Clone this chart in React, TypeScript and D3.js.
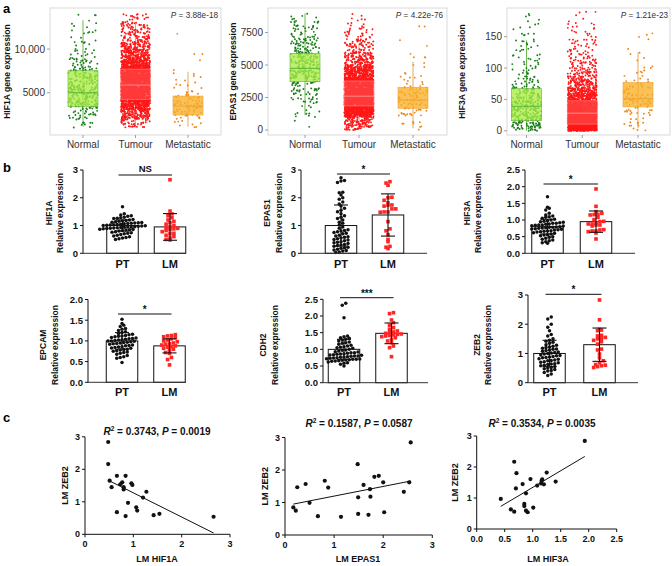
import React from "react";
import * as d3 from "d3";

const FONT = "'Liberation Sans', Arial, Helvetica, sans-serif";

// ================= Panel a data =================
const groupsA = ["Normal", "Tumour", "Metastatic"];
const genesA = ["HIF1A", "EPAS1", "HIF3A"];
const pValuesA = ["3.88e-18", "4.22e-76", "1.21e-23"];
const binWidthsA = [1000, 1000, 10];
const yTicksA = [[5000, 10000], [0, 2500, 5000, 7500], [0, 50, 100, 150]];

// point counts per bin (bins start at 0), read from point density
const hif1aNormalCounts = [0, 10, 25, 45, 50, 50, 45, 35, 22, 12, 8, 6, 6, 4];
const hif1aTumourCounts = [0, 40, 120, 250, 380, 420, 400, 330, 220, 140, 90, 60, 45, 25];
const hif1aMetCounts = [0, 8, 22, 28, 20, 8, 5, 3, 1, 2, 0, 1];
const epas1NormalCounts = [2, 12, 25, 40, 70, 70, 50, 30, 18];
const epas1TumourCounts = [120, 550, 750, 550, 300, 140, 60, 25, 10];
const epas1MetCounts = [8, 30, 30, 16, 8, 5, 2, 2];
const hif3aNormalCounts = [35, 40, 40, 40, 35, 30, 25, 15, 12, 10, 8, 7, 7, 6, 5, 5, 4, 3, 3];
const hif3aTumourCounts = [500, 520, 420, 320, 230, 150, 100, 70, 50, 35, 25, 20, 15, 12, 10, 8, 6, 5, 4];
const hif3aMetCounts = [6, 8, 6, 10, 18, 16, 10, 8, 5, 5, 2, 2, 2, 1, 2, 2];

// box stats: [whisker low, Q1, median, Q3, whisker high]
const hif1aBoxes = [[1100, 3400, 5000, 7520, 13300], [1000, 4240, 5880, 7700, 12900], [1100, 2450, 3480, 4620, 7400]];
const epas1Boxes = [[1150, 3715, 4745, 5900, 8970], [150, 1850, 2600, 3770, 6650], [130, 1670, 2300, 3280, 5250]];
const hif3aBoxes = [[0, 16, 39, 67, 144], [0, 10.6, 28, 47.6, 96], [4, 38, 51, 77, 125]];

// ================= Panel b data =================
const genesB = ["HIF1A", "EPAS1", "HIF3A", "EPCAM", "CDH2", "ZEB2"];
const groupsB = ["PT", "LM"];
const hif1aPT = [1.68, 1.42, 1.38, 1.35, 1.33, 1.3, 1.28, 1.26, 1.25, 1.22, 1.2, 1.18, 1.17, 1.15, 1.14, 1.12, 1.1, 1.09, 1.08, 1.07, 1.05, 1.04, 1.03, 1.02, 1.01, 1.0, 0.99, 0.98, 0.97, 0.96, 0.95, 0.94, 0.93, 0.92, 0.91, 0.9, 0.89, 0.88, 0.87, 0.86, 0.85, 0.84, 0.82, 0.8, 0.78, 0.76, 0.74, 0.72, 0.7, 0.68, 0.65, 0.62, 0.6, 0.57, 0.55, 0.52, 0.5, 1.11, 1.06, 0.95];
const hif1aLM = [2.65, 1.52, 1.42, 1.35, 1.28, 1.2, 1.15, 1.1, 1.05, 1.0, 0.95, 0.92, 0.9, 0.88, 0.85, 0.82, 0.78, 0.72, 0.7, 0.65, 0.6, 0.55, 0.5, 0.48];
const epas1PT = [2.72, 2.62, 2.6, 2.55, 2.2, 2.18, 2.1, 2.0, 1.95, 1.85, 1.78, 1.7, 1.62, 1.55, 1.5, 1.42, 1.35, 1.3, 1.25, 1.2, 1.12, 1.08, 1.02, 0.95, 0.9, 0.85, 0.82, 0.8, 0.78, 0.75, 0.72, 0.7, 0.65, 0.62, 0.6, 0.58, 0.55, 0.52, 0.5, 0.48, 0.45, 0.42, 0.4, 0.38, 0.35, 0.32, 0.3, 0.28, 0.25, 0.22, 0.2, 0.18, 0.15, 0.12, 0.1, 0.08, 0.05, 0.03];
const epas1LM = [2.58, 2.53, 2.45, 2.02, 2.0, 1.91, 1.82, 1.74, 1.73, 1.7, 1.6, 1.49, 1.49, 1.48, 1.14, 0.88, 0.81, 0.67, 0.5, 0.42, 0.25, 0.22, 0.17, 1.6];
const hif3aPT = [1.7, 1.38, 1.35, 1.3, 1.2, 1.15, 1.12, 1.1, 1.08, 1.05, 1.02, 1.0, 0.98, 0.96, 0.95, 0.93, 0.92, 0.9, 0.88, 0.87, 0.85, 0.84, 0.83, 0.82, 0.8, 0.79, 0.78, 0.77, 0.76, 0.75, 0.74, 0.72, 0.71, 0.7, 0.68, 0.67, 0.65, 0.64, 0.62, 0.6, 0.58, 0.56, 0.55, 0.53, 0.5, 0.48, 0.45, 0.42, 0.4, 0.38, 0.35, 0.32, 0.3, 0.9, 0.85, 0.78, 0.73, 0.66];
const hif3aLM = [1.93, 1.41, 1.25, 1.2, 1.17, 1.16, 1.15, 1.08, 1.01, 0.96, 0.91, 0.88, 0.88, 0.85, 0.85, 0.82, 0.71, 0.7, 0.67, 0.67, 0.61, 0.43, 0.95, 0.65];
const epcamPT = [1.52, 1.42, 1.38, 1.35, 1.3, 1.28, 1.25, 1.22, 1.2, 1.18, 1.15, 1.13, 1.12, 1.1, 1.08, 1.07, 1.05, 1.04, 1.03, 1.02, 1.01, 1.0, 0.99, 0.98, 0.97, 0.96, 0.95, 0.94, 0.92, 0.9, 0.89, 0.88, 0.86, 0.85, 0.84, 0.82, 0.8, 0.79, 0.78, 0.76, 0.75, 0.73, 0.72, 0.7, 0.68, 0.65, 0.62, 0.6, 0.58, 0.48, 1.06, 1.0, 0.93, 1.16, 0.83, 1.11];
const epcamLM = [1.15, 1.13, 1.12, 1.1, 1.08, 1.05, 1.02, 1.0, 0.98, 0.95, 0.93, 0.92, 0.9, 0.88, 0.86, 0.85, 0.82, 0.8, 0.78, 0.72, 0.7, 0.6, 0.55, 0.42];
const cdh2PT = [2.38, 2.32, 1.95, 1.4, 1.38, 1.35, 1.33, 1.3, 1.28, 1.25, 1.22, 1.2, 1.18, 1.15, 1.12, 1.1, 1.08, 1.05, 1.03, 1.0, 0.98, 0.97, 0.95, 0.93, 0.92, 0.9, 0.88, 0.87, 0.85, 0.84, 0.83, 0.82, 0.8, 0.79, 0.78, 0.77, 0.76, 0.75, 0.74, 0.73, 0.72, 0.71, 0.7, 0.69, 0.68, 0.67, 0.66, 0.65, 0.64, 0.62, 0.6, 0.58, 0.55, 0.5, 0.9, 0.8, 0.7, 1.06, 0.86];
const cdh2LM = [2.1, 2.07, 1.88, 1.8, 1.72, 1.65, 1.6, 1.55, 1.52, 1.5, 1.48, 1.46, 1.45, 1.43, 1.42, 1.4, 1.38, 1.35, 1.3, 1.25, 1.2, 1.1, 1.05, 0.78];
const zeb2PT = [2.25, 2.18, 2.0, 1.9, 1.78, 1.65, 1.6, 1.5, 1.45, 1.42, 1.38, 1.35, 1.3, 1.25, 1.22, 1.2, 1.18, 1.15, 1.12, 1.1, 1.08, 1.05, 1.02, 1.0, 0.98, 0.95, 0.92, 0.9, 0.88, 0.85, 0.82, 0.8, 0.78, 0.75, 0.72, 0.7, 0.68, 0.65, 0.62, 0.6, 0.58, 0.55, 0.52, 0.5, 0.48, 0.45, 0.42, 0.4, 0.35, 0.3, 0.25, 1.28, 0.93, 0.86, 1.03, 0.76, 1.14, 0.64];
const zeb2LM = [2.83, 2.15, 1.82, 1.8, 1.78, 1.62, 1.6, 1.55, 1.52, 1.5, 1.45, 1.4, 1.32, 1.15, 1.12, 0.98, 0.85, 0.75, 0.68, 0.62, 0.6, 0.58, 0.55, 0.52];

const barMeans = [[1.0, 0.95], [1.0, 1.38], [0.8, 0.95], [1.0, 0.88], [1.0, 1.48], [1.0, 1.3]];
const barSDs = [[0.2, 0.48], [0.74, 0.76], [0.22, 0.32], [0.2, 0.17], [0.3, 0.31], [0.45, 0.57]];
const sigLabels = ["NS", "*", "*", "*", "***", "*"];
const yMaxB = [3, 3, 2.5, 2.0, 2.5, 3];
const yTicksB = [[0, 1, 2, 3], [0, 1, 2, 3], [0, 0.5, 1, 1.5, 2, 2.5], [0, 0.5, 1, 1.5, 2], [0, 0.5, 1, 1.5, 2, 2.5], [0, 1, 2, 3]];

// ================= Panel c data =================
const lmHIF1A_c = [0.48, 0.48, 0.51, 0.55, 0.66, 0.73, 0.77, 0.8, 0.8, 0.84, 0.96, 0.98, 0.66, 0.84, 0.89, 1.06, 1.08, 1.2, 1.27, 1.42, 1.54, 2.66];
const lmZEB2_c1 = [2.84, 2.16, 1.65, 1.45, 1.8, 1.54, 1.6, 1.45, 1.38, 1.8, 1.57, 1.52, 0.68, 0.56, 0.97, 0.83, 0.73, 1.13, 1.31, 0.59, 0.63, 0.54];
const lmEPAS1_c = [0.17, 0.22, 0.25, 0.42, 0.5, 0.67, 0.81, 0.88, 1.14, 1.48, 1.49, 1.49, 1.6, 1.7, 1.73, 1.74, 1.82, 1.91, 2.0, 2.02, 2.42, 2.53, 2.56];
const lmZEB2_c2 = [0.85, 0.75, 1.47, 1.57, 0.99, 0.58, 1.67, 1.46, 0.56, 2.18, 1.16, 0.65, 1.54, 0.62, 1.41, 1.18, 1.79, 1.82, 1.62, 0.7, 1.33, 1.62, 2.85];
const lmHIF3A_c = [0.43, 0.61, 0.67, 0.67, 0.7, 0.71, 0.82, 0.85, 0.85, 0.88, 0.88, 0.91, 0.96, 1.01, 1.08, 1.15, 1.16, 1.17, 1.2, 1.25, 1.41, 1.93];
const lmZEB2_c3 = [0.97, 0.63, 0.56, 2.17, 1.31, 1.8, 1.45, 0.81, 0.74, 1.15, 0.59, 0.54, 1.61, 0.69, 1.4, 1.47, 1.56, 1.6, 1.44, 1.82, 1.53, 2.84];
const xLabelsC = ["LM HIF1A", "LM EPAS1", "LM HIF3A"];
const r2C = ["0.3743", "0.1587", "0.3534"];
const pC = ["0.0019", "0.0587", "0.0035"];
// fitted lines: [intercept, slope]
const fitsC = [[2.02, -0.744], [0.9, 0.297], [0.269, 1.073]];
const xTicksC = [[0, 1, 2, 3], [0, 1, 2, 3], [0, 0.5, 1, 1.5, 2, 2.5]];
const yTicksC = [0, 1, 2, 3];

// ================= Layout =================
const layoutA = [
  { left: 50, right: 221, centers: [83, 135.5, 188], domain: [160, 14700], titleX: 7, pX: 218 },
  { left: 268, right: 447, centers: [305, 359, 413], domain: [-385, 9385], titleX: 233, pX: 443 },
  { left: 507, right: 670, centers: [526.5, 582.5, 638], domain: [-6.8, 195.7], titleX: 462, pX: 668 },
];
const fillA = ["#a9ec45", "#ff5c5c", "#f8b126"];
const fillOpA = [0.78, 0.5, 0.78];
const dotA = ["#1b7d1b", "#ff1717", "#ec861c"];
const lineA = ["#5cb338", "#ff8a8a", "#eea03c"];

const layoutB = [
  { axisX: 83, xEnd: 186, centers: [122.5, 170], y0: 253.3, yTop: 170, sigY: 175, titleX: [49, 60], titleY: 213, labY: 268 },
  { axisX: 301, xEnd: 427, centers: [341, 388], y0: 253.3, yTop: 170, sigY: 174, titleX: [267, 279], titleY: 213, labY: 268 },
  { axisX: 525, xEnd: 635, centers: [547.5, 596], y0: 253.3, yTop: 170, sigY: 184, titleX: [467, 478], titleY: 213, labY: 268 },
  { axisX: 88, xEnd: 186, centers: [122, 169.5], y0: 382.3, yTop: 299.5, sigY: 314, titleX: [43, 55], titleY: 345, labY: 396 },
  { axisX: 323, xEnd: 428, centers: [344, 391.5], y0: 382.7, yTop: 299.3, sigY: 297.7, titleX: [263, 275], titleY: 345, labY: 396 },
  { axisX: 528, xEnd: 638, centers: [549.5, 599.5], y0: 382.7, yTop: 295, sigY: 294.3, titleX: [477, 488], titleY: 345, labY: 396 },
];

const layoutC = [
  { x0: 85, x1: 230, y0: 534.3, y1: 436.8, titleX: 157, titleY: 435, xTitleX: 157, yTitleX: 65 },
  { x0: 285, x1: 432.3, y0: 535, y1: 437.5, titleX: 359, titleY: 427, xTitleX: 358, yTitleX: 265 },
  { x0: 476.7, x1: 616.7, y0: 529, y1: 436, titleX: 542, titleY: 427, xTitleX: 548, yTitleX: 455 },
];

// ================= Helpers =================
// deterministic hash used only to spread points horizontally/within a bin (layout, not data)
function hash(n: number, k: number) {
  const s = Math.sin(n * 12.9898 + k * 78.233) * 43758.5453;
  return s - Math.floor(s);
}

function jitterPoints(counts: number[], bw: number, cx: number, width: number, y: any, seed: number) {
  const out: { x: number; y: number }[] = [];
  let g = 0;
  counts.forEach((n, k) => {
    for (let i = 0; i < n; i++) {
      const fx = hash(g + seed * 1000, 1);
      const fy = hash(g + seed * 1000, 2);
      const v = k * bw + fy * bw;
      out.push({ x: cx + (fx - 0.5) * width, y: y(v) });
      g++;
    }
  });
  return out;
}

function swarm(values: number[], y: any, cx: number, step: number) {
  const pts = values.map((v) => ({ v, py: y(v) }));
  const rows = d3.group(pts, (p) => Math.round(p.py / step));
  const out: { x: number; y: number }[] = [];
  rows.forEach((arr) => {
    arr.sort((a, b) => a.v - b.v);
    const n = arr.length;
    arr.forEach((p, i) => out.push({ x: cx + (i - (n - 1) / 2) * step, y: p.py }));
  });
  return out;
}

function fmtA(v: number) {
  return v >= 10000 ? d3.format(",")(v) : String(v);
}

// ================= Panels =================
function PanelA({ idx }: { idx: number }) {
  const L = layoutA[idx];
  const top = 8, bottom = 135;
  const y = d3.scaleLinear().domain(L.domain).range([bottom, top]);
  const x = d3.scalePoint<string>().domain(groupsA).range([L.centers[0], L.centers[2]]);
  const countsAll = [
    [hif1aNormalCounts, hif1aTumourCounts, hif1aMetCounts],
    [epas1NormalCounts, epas1TumourCounts, epas1MetCounts],
    [hif3aNormalCounts, hif3aTumourCounts, hif3aMetCounts],
  ][idx];
  const boxes = [hif1aBoxes, epas1Boxes, hif3aBoxes][idx];
  const bw = 30;
  return (
    <g>
      <rect x={L.left} y={top} width={L.right - L.left} height={bottom - top} fill="white" stroke="#cfcfcf" strokeWidth={0.8} />
      {groupsA.map((g, gi) => {
        const b = boxes[gi];
        const cx = x(g)!;
        return <line key={"w" + g} x1={cx} x2={cx} y1={y(b[0])} y2={y(b[4])} stroke={lineA[gi]} strokeWidth={1} opacity={0.9} />;
      })}
      {groupsA.map((g, gi) => {
        const pts = jitterPoints(countsAll[gi], binWidthsA[idx], x(g)!, 29, y, idx * 3 + gi);
        return (
          <g key={g}>
            {pts.map((p, i) => (
              <circle key={i} cx={p.x} cy={p.y} r={0.95} fill={dotA[gi]} />
            ))}
          </g>
        );
      })}
      {groupsA.map((g, gi) => {
        const b = boxes[gi];
        const cx = x(g)!;
        return (
          <g key={g}>
            <rect x={cx - bw / 2} y={y(b[3])} width={bw} height={y(b[1]) - y(b[3])} fill={fillA[gi]} fillOpacity={fillOpA[gi]} stroke={lineA[gi]} strokeWidth={0.6} />
            <line x1={cx - bw / 2} x2={cx + bw / 2} y1={y(b[2])} y2={y(b[2])} stroke={lineA[gi]} strokeWidth={1} />
          </g>
        );
      })}
      {yTicksA[idx].map((t) => (
        <g key={t}>
          <line x1={L.left - 3} x2={L.left} y1={y(t)} y2={y(t)} stroke="#888" strokeWidth={0.8} />
          <text x={L.left - 5} y={y(t)} dy="0.35em" textAnchor="end" fontSize={10} fill="#333">
            {fmtA(t)}
          </text>
        </g>
      ))}
      {groupsA.map((g) => (
        <g key={g}>
          <line x1={x(g)!} x2={x(g)!} y1={bottom} y2={bottom + 3} stroke="#888" strokeWidth={0.8} />
          <text x={x(g)!} y={148} textAnchor="middle" fontSize={10} fill="#333">
            {g}
          </text>
        </g>
      ))}
      <text transform={`translate(${L.titleX},${(top + bottom) / 2}) rotate(-90)`} textAnchor="middle" dominantBaseline="central" fontSize={8.6} fontWeight="bold" fill="#111">
        {genesA[idx]} gene expression
      </text>
      <text x={L.pX} y={18} textAnchor="end" fontSize={8.2} fill="#333">
        <tspan fontStyle="italic">P</tspan> = {pValuesA[idx]}
      </text>
    </g>
  );
}

function PanelB({ idx }: { idx: number }) {
  const L = layoutB[idx];
  const y = d3.scaleLinear().domain([0, yMaxB[idx]]).range([L.y0, L.yTop]);
  const x = d3.scalePoint<string>().domain(groupsB).range([L.centers[0], L.centers[1]]);
  const data = [
    [hif1aPT, hif1aLM], [epas1PT, epas1LM], [hif3aPT, hif3aLM],
    [epcamPT, epcamLM], [cdh2PT, cdh2LM], [zeb2PT, zeb2LM],
  ][idx];
  const barW = 31.5;
  const fmt = yTicksB[idx].some((t) => t % 1 !== 0) ? d3.format(".1f") : d3.format("d");
  const capW = 14;
  return (
    <g fontFamily={FONT}>
      {groupsB.map((g, gi) => {
        const cx = x(g)!;
        const m = barMeans[idx][gi];
        return <rect key={g} x={cx - barW / 2} y={y(m)} width={barW} height={L.y0 - y(m)} fill="white" stroke="#111" strokeWidth={1} />;
      })}
      {swarm(data[0], y, x("PT")!, 3.5).map((p, i) => (
        <circle key={"p" + i} cx={p.x} cy={p.y} r={1.75} fill="#111" />
      ))}
      {swarm(data[1], y, x("LM")!, 3.9).map((p, i) => (
        <rect key={"l" + i} x={p.x - 1.8} y={p.y - 1.8} width={3.6} height={3.6} fill="#ff2626" />
      ))}
      {groupsB.map((g, gi) => {
        const cx = x(g)!;
        const m = barMeans[idx][gi];
        const s = barSDs[idx][gi];
        return (
          <g key={g} stroke="#111" strokeWidth={1.1}>
            <line x1={cx} x2={cx} y1={y(m - s)} y2={y(m + s)} />
            <line x1={cx - capW / 2} x2={cx + capW / 2} y1={y(m + s)} y2={y(m + s)} />
            <line x1={cx - capW / 2} x2={cx + capW / 2} y1={y(m - s)} y2={y(m - s)} />
          </g>
        );
      })}
      <line x1={L.axisX} x2={L.axisX} y1={L.y0} y2={L.yTop} stroke="#111" strokeWidth={1} />
      <line x1={L.axisX} x2={L.xEnd} y1={L.y0} y2={L.y0} stroke="#333" strokeWidth={1} />
      {yTicksB[idx].map((t) => (
        <g key={t}>
          <line x1={L.axisX - 3} x2={L.axisX} y1={y(t)} y2={y(t)} stroke="#111" strokeWidth={1} />
          <text x={L.axisX - 5} y={y(t)} dy="0.35em" textAnchor="end" fontSize={9.5} fontWeight="bold" fill="#111">
            {fmt(t)}
          </text>
        </g>
      ))}
      {groupsB.map((g) => (
        <text key={g} x={x(g)!} y={L.labY} textAnchor="middle" fontSize={11} fontWeight="bold" fill="#111">
          {g}
        </text>
      ))}
      <line x1={x("PT")! - 4} x2={x("LM")! + 2} y1={L.sigY} y2={L.sigY} stroke="#111" strokeWidth={1} />
      <text x={(x("PT")! + x("LM")!) / 2 - 1} y={L.sigY - (sigLabels[idx] === "NS" ? 3 : 1)} textAnchor="middle" fontSize={sigLabels[idx] === "NS" ? 9.5 : 10} fontWeight="bold" fill="#111">
        {sigLabels[idx]}
      </text>
      <text transform={`translate(${L.titleX[0]},${L.titleY}) rotate(-90)`} textAnchor="middle" dominantBaseline="central" fontSize={8.5} fontWeight="bold" fill="#111">
        {genesB[idx]}
      </text>
      <text transform={`translate(${L.titleX[1]},${L.titleY}) rotate(-90)`} textAnchor="middle" dominantBaseline="central" fontSize={8.5} fontWeight="bold" fill="#111">
        Relative expression
      </text>
    </g>
  );
}

function PanelC({ idx }: { idx: number }) {
  const L = layoutC[idx];
  const xs = [lmHIF1A_c, lmEPAS1_c, lmHIF3A_c][idx];
  const ys = [lmZEB2_c1, lmZEB2_c2, lmZEB2_c3][idx];
  const xt = xTicksC[idx];
  const x = d3.scaleLinear().domain([xt[0], xt[xt.length - 1]]).range([L.x0, L.x1]);
  const y = d3.scaleLinear().domain([0, 3]).range([L.y0, L.y1]);
  const [b0, b1] = fitsC[idx];
  const [xmin, xmax] = d3.extent(xs) as [number, number];
  const fitLine = d3.line<number>().x((v) => x(v)).y((v) => y(b0 + b1 * v));
  const fmt = xt.some((t) => t % 1 !== 0) ? d3.format(".1f") : d3.format("d");
  return (
    <g fontFamily={FONT}>
      <line x1={L.x0} x2={L.x0} y1={L.y0} y2={L.y1} stroke="#111" strokeWidth={1} />
      <line x1={L.x0} x2={L.x1} y1={L.y0} y2={L.y0} stroke="#111" strokeWidth={1} />
      {yTicksC.map((t) => (
        <g key={t}>
          <line x1={L.x0 - 3} x2={L.x0} y1={y(t)} y2={y(t)} stroke="#111" />
          <text x={L.x0 - 5} y={y(t)} dy="0.35em" textAnchor="end" fontSize={9} fontWeight="bold" fill="#111">
            {t}
          </text>
        </g>
      ))}
      {xt.map((t) => (
        <g key={t}>
          <line x1={x(t)} x2={x(t)} y1={L.y0} y2={L.y0 + 3} stroke="#111" />
          <text x={x(t)} y={L.y0 + 13} textAnchor="middle" fontSize={9} fontWeight="bold" fill="#111">
            {fmt(t)}
          </text>
        </g>
      ))}
      <path d={fitLine([idx === 0 ? 0.5 : xmin, xmax]) || ""} stroke="#111" strokeWidth={1} fill="none" />
      {xs.map((v, i) => (
        <circle key={i} cx={x(v)} cy={y(ys[i])} r={2.1} fill="#111" />
      ))}
      <text x={L.xTitleX} y={561.5} textAnchor="middle" fontSize={9} fontWeight="bold" fill="#111">
        {xLabelsC[idx]}
      </text>
      <text transform={`translate(${L.yTitleX},${(L.y0 + L.y1) / 2}) rotate(-90)`} textAnchor="middle" dominantBaseline="central" fontSize={9} fontWeight="bold" fill="#111">
        LM ZEB2
      </text>
      <text x={L.titleX} y={L.titleY} textAnchor="middle" fontSize={10} fontWeight="bold" fill="#111">
        <tspan fontStyle="italic">R</tspan>
        <tspan dy={-4} fontSize={6.5}>2</tspan>
        <tspan dy={4}> = {r2C[idx]}, </tspan>
        <tspan fontStyle="italic">P</tspan>
        <tspan> = {pC[idx]}</tspan>
      </text>
    </g>
  );
}

export default function App() {
  return (
    <svg width={672} height={566} viewBox="0 0 672 566" style={{ position: "absolute", left: 0, top: 0, background: "white" }} fontFamily={FONT}>
      <rect width={672} height={566} fill="white" />
      <text x={3} y={13} fontSize={13} fontWeight="bold">a</text>
      <text x={3} y={172} fontSize={13} fontWeight="bold">b</text>
      <text x={3} y={422} fontSize={13} fontWeight="bold">c</text>
      {[0, 1, 2].map((i) => (
        <PanelA key={i} idx={i} />
      ))}
      {[0, 1, 2, 3, 4, 5].map((i) => (
        <PanelB key={i} idx={i} />
      ))}
      {[0, 1, 2].map((i) => (
        <PanelC key={i} idx={i} />
      ))}
    </svg>
  );
}
